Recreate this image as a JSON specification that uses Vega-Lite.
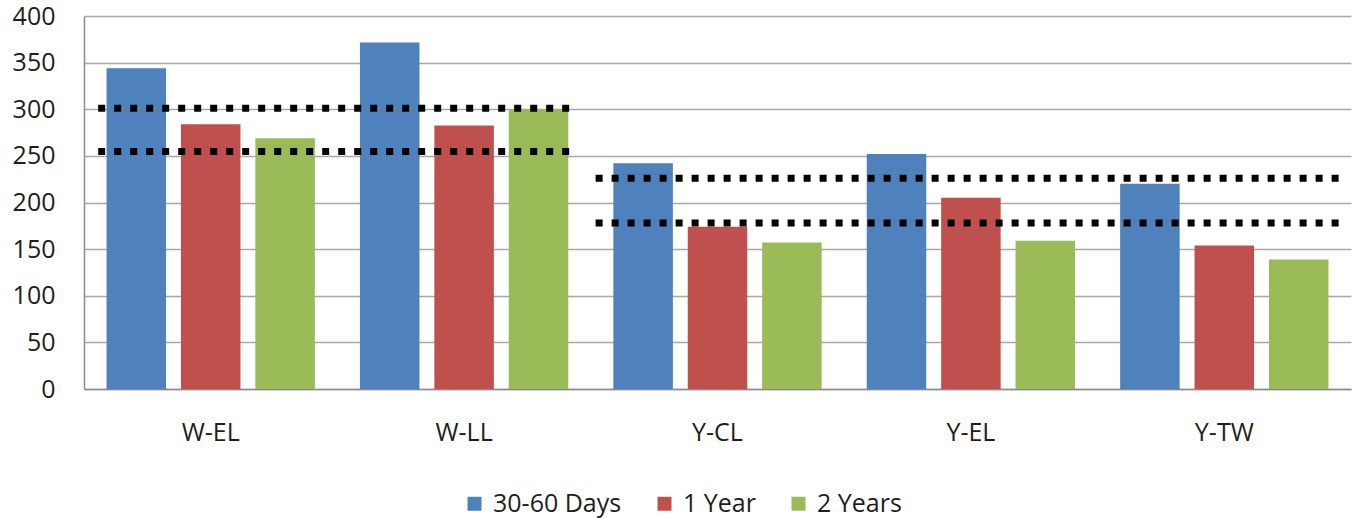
{
  "$schema": "https://vega.github.io/schema/vega-lite/v6.json",
  "autosize": {"type": "none"},
  "width": 1267,
  "height": 373,
  "padding": {"left": 84, "top": 16, "right": 4, "bottom": 129},
  "background": "white",
  "config": {
    "view": {"stroke": null},
    "font": "Open Sans",
    "axis": {"labelFont": "Open Sans", "labelColor": "#1e1e1e"},
    "legend": {"labelFont": "Open Sans", "labelColor": "#1e1e1e"}
  },
  "datasets": {
    "bars": [
      {"site": "W-EL", "period": "30-60 Days", "value": 344},
      {"site": "W-EL", "period": "1 Year", "value": 284},
      {"site": "W-EL", "period": "2 Years", "value": 269},
      {"site": "W-LL", "period": "30-60 Days", "value": 371.5},
      {"site": "W-LL", "period": "1 Year", "value": 282.5},
      {"site": "W-LL", "period": "2 Years", "value": 300},
      {"site": "Y-CL", "period": "30-60 Days", "value": 242},
      {"site": "Y-CL", "period": "1 Year", "value": 174},
      {"site": "Y-CL", "period": "2 Years", "value": 157},
      {"site": "Y-EL", "period": "30-60 Days", "value": 252},
      {"site": "Y-EL", "period": "1 Year", "value": 205},
      {"site": "Y-EL", "period": "2 Years", "value": 159},
      {"site": "Y-TW", "period": "30-60 Days", "value": 220},
      {"site": "Y-TW", "period": "1 Year", "value": 154},
      {"site": "Y-TW", "period": "2 Years", "value": 139}
    ],
    "limits": [
      {"start": 0.056, "end": 1.918, "level": 301},
      {"start": 0.056, "end": 1.918, "level": 254.7},
      {"start": 2.019, "end": 4.954, "level": 226.1},
      {"start": 2.019, "end": 4.954, "level": 177.9}
    ]
  },
  "layer": [
    {
      "data": {"name": "bars"},
      "mark": {"type": "bar"},
      "encoding": {
        "x": {
          "field": "site",
          "type": "nominal",
          "scale": {"paddingInner": 0, "paddingOuter": 0},
          "axis": {
            "title": null,
            "labelAngle": 0,
            "ticks": false,
            "tickSize": 0,
            "labelPadding": 31,
            "labelFontSize": 25,
            "domainColor": "#8c8c8c",
            "domainWidth": 1.5,
            "grid": false
          }
        },
        "xOffset": {
          "field": "period",
          "type": "nominal",
          "sort": ["30-60 Days", "1 Year", "2 Years"],
          "scale": {"paddingInner": 0.2, "paddingOuter": 0.303}
        },
        "y": {
          "field": "value",
          "type": "quantitative",
          "scale": {"domain": [0, 400], "nice": false, "zero": true},
          "axis": {
            "title": null,
            "values": [0, 50, 100, 150, 200, 250, 300, 350, 400],
            "ticks": false,
            "tickSize": 0,
            "labelPadding": 29,
            "labelFontSize": 25,
            "domainColor": "#8c8c8c",
            "domainWidth": 1.5,
            "gridColor": "#a8a8a8",
            "gridWidth": 1.5
          }
        },
        "color": {
          "field": "period",
          "type": "nominal",
          "sort": ["30-60 Days", "1 Year", "2 Years"],
          "scale": {"domain": ["30-60 Days", "1 Year", "2 Years"], "range": ["#4f81bd", "#c0504d", "#9bbb59"]},
          "legend": {
            "title": null,
            "orient": "none",
            "direction": "horizontal",
            "legendX": 378,
            "legendY": 475,
            "symbolType": "square",
            "symbolSize": 196,
            "symbolStrokeWidth": 0,
            "labelFontSize": 25,
            "labelOffset": 6,
            "columnPadding": 30
          }
        }
      }
    },
    {
      "data": {"name": "limits"},
      "mark": {"type": "rule", "color": "black", "strokeWidth": 7, "strokeDash": [7, 9], "strokeCap": "butt"},
      "encoding": {
        "x": {"field": "start", "type": "quantitative", "scale": {"domain": [0, 5], "nice": false, "zero": false}, "axis": null},
        "x2": {"field": "end"},
        "y": {"field": "level", "type": "quantitative"}
      }
    }
  ],
  "resolve": {"scale": {"x": "independent"}, "axis": {"x": "independent"}}
}
